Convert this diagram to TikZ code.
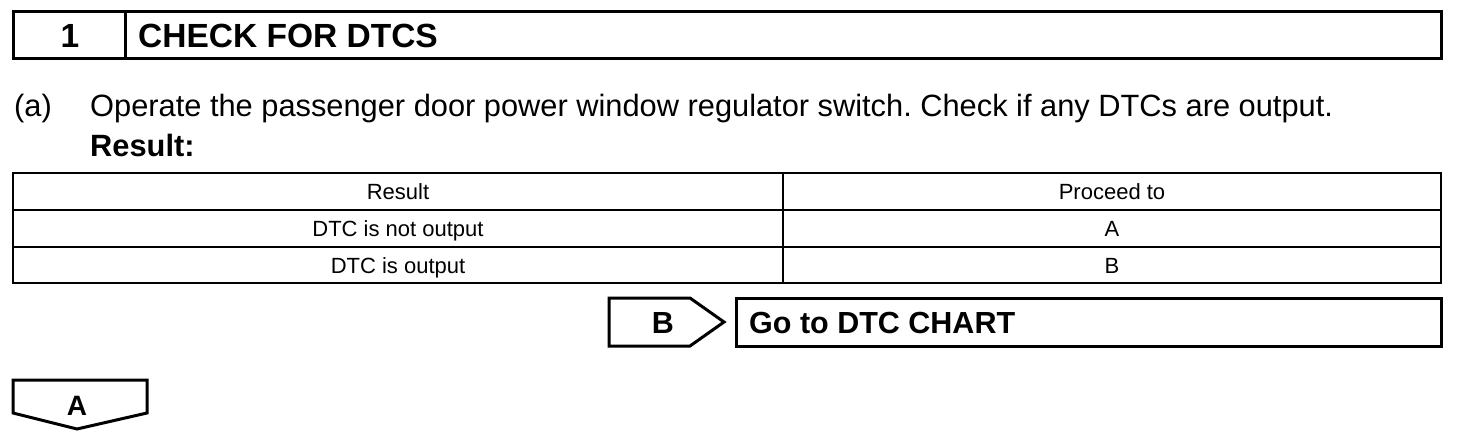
\documentclass[tikz,border=0pt]{standalone}
\usepackage{fontspec}
\setmainfont{Liberation Sans}
\frenchspacing
\begin{document}
\begin{tikzpicture}[x=1pt,y=-1pt,
  thick box/.style={draw=black,line width=3pt},
  cellbox/.style={draw=black,line width=2pt},
  headfont/.style={font=\fontsize{33.5}{38}\selectfont\bfseries},
  gofont/.style={font=\fontsize{30.5}{35}\selectfont\bfseries},
  bodyfont/.style={font=\fontsize{30.8}{35}\selectfont},
  cellfont/.style={font=\fontsize{22}{26}\selectfont},
  lbl/.style={inner sep=0pt,anchor=base}]
\useasboundingbox (0,0) rectangle (1472,442);
% header
\draw[thick box] (13,11) rectangle (1441,58);
\draw[thick box] (125,11) -- (125,58);
\node[lbl,headfont] (num) at (70,47) {1};
\node[lbl,headfont,anchor=base west] (title) at (138,47) {CHECK FOR DTCS};
% step text
\node[lbl,bodyfont,anchor=base west] (step) at (14,116) {(a)};
\node[lbl,bodyfont,anchor=base west] (steptext) at (90,116) {Operate the passenger door power window regulator switch. Check if any DTCs are output.};
\node[lbl,bodyfont,anchor=base west] (res) at (90,156) {\bfseries Result:};
% table
\draw[cellbox] (13,173) rectangle (1441,283);
\draw[cellbox] (13,210) -- (1441,210);
\draw[cellbox] (13,247) -- (1441,247);
\draw[cellbox] (783,173) -- (783,283);
\node[lbl,cellfont] (h1) at (398,199) {Result};
\node[lbl,cellfont] (h2) at (1112,199) {Proceed to};
\node[lbl,cellfont] (r1a) at (398,236) {DTC is not output};
\node[lbl,cellfont] (r1b) at (1112,236) {A};
\node[lbl,cellfont] (r2a) at (398,273) {DTC is output};
\node[lbl,cellfont] (r2b) at (1112,273) {B};
% B arrow and go to
\draw[thick box,line join=miter] (609,298) -- (690,298) -- (724,322) -- (690,346) -- (609,346) -- cycle;
\node[lbl,gofont] (bl) at (663,333) {B};
\draw[thick box] (736,298) rectangle (1441,346);
\node[lbl,gofont,anchor=base west] (goto) at (749,333) {Go to DTC CHART};
% A arrow
\draw[thick box,line join=miter] (13,380) -- (147,380) -- (147,413) -- (77,429) -- (13,413) -- cycle;
\node[lbl,font=\fontsize{28}{32}\selectfont\bfseries] (al) at (77,415) {A};
\end{tikzpicture}
\end{document}
